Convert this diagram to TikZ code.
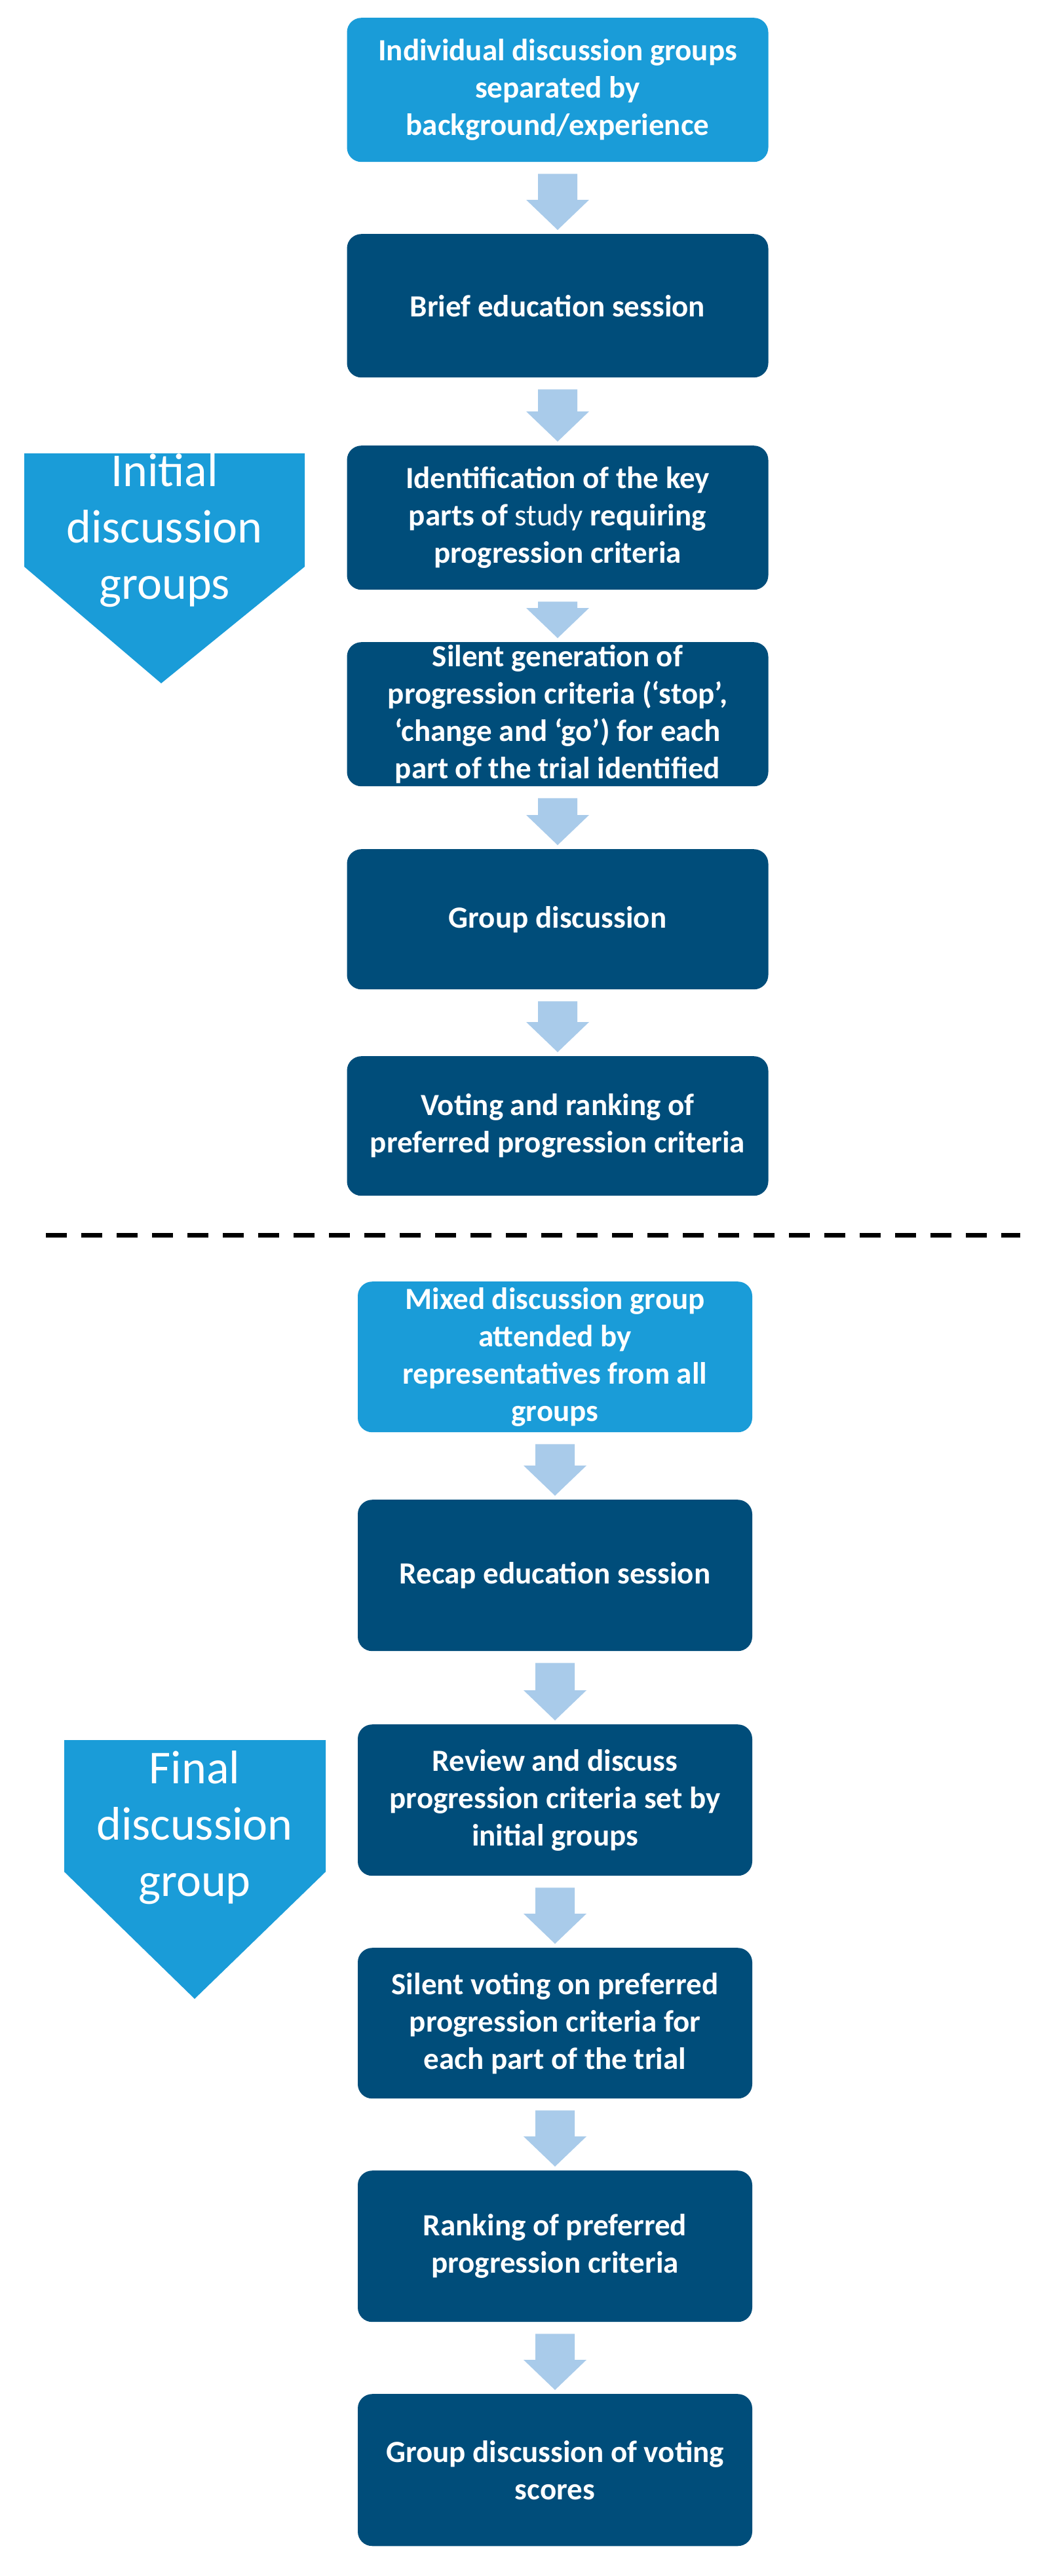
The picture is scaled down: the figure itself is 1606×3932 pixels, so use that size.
\documentclass[tikz,border=0pt]{standalone}
\usepackage{fontspec}
\setmainfont{Carlito}
\usetikzlibrary{calc}
\definecolor{lightb}{HTML}{1A9CD8}
\definecolor{darkb}{HTML}{004D7A}
\definecolor{arrc}{HTML}{A9CBEA}
\tikzset{
  box/.style={rounded corners=22pt, text=white, align=center, inner sep=0pt,
    font=\fontsize{47}{57}\selectfont\bfseries, anchor=north},
  top/.style={box, minimum width=643pt},
  bot/.style={box, minimum width=602pt},
  dark/.style={fill=darkb},
  light/.style={fill=lightb},
  penta/.style={fill=lightb},
  ptext/.style={text=white, align=center, font=\fontsize{72}{86}\selectfont},
  blk/.style={fill=arrc},
}
\newcommand{\blockarrow}[2]{%
  \fill[blk] ($(#1.south)+(-30,18)$) -- ($(#1.south)+(30,18)$) -- ($(#2.north)+(30,-52)$)
    -- ($(#2.north)+(48,-52)$) -- ($(#2.north)+(0,-6)$) -- ($(#2.north)+(-48,-52)$)
    -- ($(#2.north)+(-30,-52)$) -- cycle;}
\begin{document}
\begin{tikzpicture}[x=1pt,y=-1pt]
\useasboundingbox (0,0) rectangle (1606,3932);
% top section
\node[top, light, minimum height=220pt] (a1) at (851,27) {Individual discussion groups\\separated by\\background/experience};
\node[top, dark, minimum height=219pt] (a2) at (851,357) {Brief education session};
\node[top, dark, minimum height=220pt] (a3) at (851,680) {Identification of the key\\parts of \textmd{study} requiring\\progression criteria};
\node[top, dark, minimum height=220pt] (a4) at (851,980) {Silent generation of\\progression criteria (‘stop’,\\‘change and ‘go’) for each\\part of the trial identified};
\node[top, dark, minimum height=214pt] (a5) at (851,1296) {Group discussion};
\node[top, dark, minimum height=213pt] (a6) at (851,1612) {Voting and ranking of\\preferred progression criteria};
\foreach \u/\v in {a1/a2,a2/a3,a3/a4,a4/a5,a5/a6} {\blockarrow{\u}{\v}}
% initial pentagon
\fill[penta] (37,692) -- (465,692) -- (465,865) -- (246,1043) -- (37,865) -- cycle;
\node[ptext] (ini) at (251,810) {Initial\\discussion\\groups};
% dashed separator
\coordinate (d1) at (70,1885);
\coordinate (d2) at (1557,1885);
\draw[line width=7pt, dash pattern=on 32pt off 22pt] (d1) -- (d2);
% bottom section
\node[bot, light, minimum height=230pt] (b1) at (847,1956) {Mixed discussion group\\attended by\\representatives from all\\groups};
\node[bot, dark, minimum height=231pt] (b2) at (847,2289) {Recap education session};
\node[bot, dark, minimum height=231pt] (b3) at (847,2632) {Review and discuss\\progression criteria set by\\initial groups};
\node[bot, dark, minimum height=230pt] (b4) at (847,2973) {Silent voting on preferred\\progression criteria for\\each part of the trial};
\node[bot, dark, minimum height=231pt] (b5) at (847,3313) {Ranking of preferred\\progression criteria};
\node[bot, dark, minimum height=232pt] (b6) at (847,3654) {Group discussion of voting\\scores};
\foreach \u/\v in {b1/b2,b2/b3,b3/b4,b4/b5,b5/b6} {\blockarrow{\u}{\v}}
\fill[penta] (98,2656) -- (497,2656) -- (497,2857) -- (297,3051) -- (98,2857) -- cycle;
\node[ptext] (fin) at (297,2790) {Final\\discussion\\group};
\end{tikzpicture}
\end{document}
